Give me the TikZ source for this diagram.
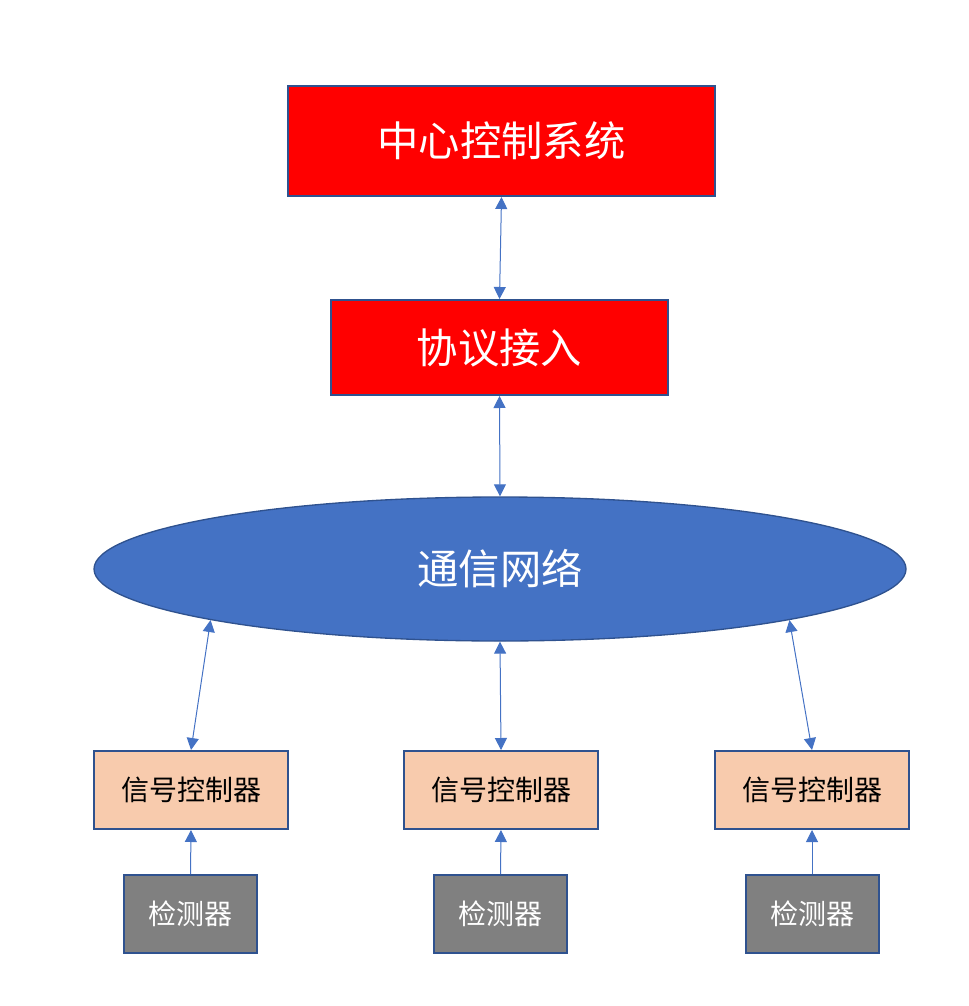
\documentclass[tikz,border=0pt]{standalone}
\usepackage{fontspec}
\newfontfamily\cjk{Noto Sans CJK SC}
\usetikzlibrary{shapes.geometric,arrows.meta}
\definecolor{bord}{HTML}{2F528F}
\definecolor{arr}{HTML}{4472C4}
\definecolor{netblue}{HTML}{4472C4}
\definecolor{peach}{HTML}{F8CBAD}
\definecolor{grayfill}{HTML}{808080}
\begin{document}
\begin{tikzpicture}[x=0.75pt,y=-0.75pt,
  redbox/.style={draw=bord,line width=1.5pt,fill=red,text=white,inner sep=0pt,font=\cjk\fontsize{31}{36}\selectfont},
  netnode/.style={ellipse,draw=bord,line width=1pt,fill=netblue,text=white,inner sep=0pt,font=\cjk\fontsize{31}{36}\selectfont,minimum width={812*0.75pt},minimum height={144*0.75pt}},
  sigbox/.style={draw=bord,line width=1.5pt,fill=peach,text=black,inner sep=0pt,font=\cjk\fontsize{21}{24}\selectfont,minimum width={194*0.75pt},minimum height={78*0.75pt}},
  detbox/.style={draw=bord,line width=1.5pt,fill=grayfill,text=white,inner sep=0pt,font=\cjk\fontsize{21}{24}\selectfont,minimum width={133*0.75pt},minimum height={78*0.75pt}},
  link/.style={draw=arr,line width=0.75pt,{Triangle[length=9pt,width=9pt]}-{Triangle[length=9pt,width=9pt]}},
  uplink/.style={draw=arr,line width=0.75pt,-{Triangle[length=9pt,width=9pt]}}
]
\useasboundingbox (0,0) rectangle (968,1006);
\node[redbox,minimum width={427*0.75pt},minimum height={110*0.75pt}] (center) at (501.5,141) {\raisebox{-2pt}{中心控制系统}};
\node[redbox,minimum width={337*0.75pt},minimum height={95*0.75pt}] (proto) at (499.5,347.5) {\raisebox{-2pt}{协议接入}};
\node[netnode] (net) at (500,569) {通信网络};
\node[sigbox] (sc1) at (191,790) {信号控制器};
\node[sigbox] (sc2) at (501,790) {信号控制器};
\node[sigbox] (sc3) at (812,790) {信号控制器};
\node[detbox] (d1) at (190.5,914) {检测器};
\node[detbox] (d2) at (500.5,914) {检测器};
\node[detbox] (d3) at (812,914) {检测器};
\draw[link] (center.south) -- (proto.north);
\draw[link] (proto.south) -- (net.north);
\draw[link] (net.190.4) -- (sc1.north);
\draw[link] (net.south) -- (sc2.north);
\draw[link] (net.-10.4) -- (sc3.north);
\draw[uplink] (d1.north) -- (sc1.south);
\draw[uplink] (d2.north) -- (sc2.south);
\draw[uplink] (d3.north) -- (sc3.south);
\end{tikzpicture}
\end{document}
